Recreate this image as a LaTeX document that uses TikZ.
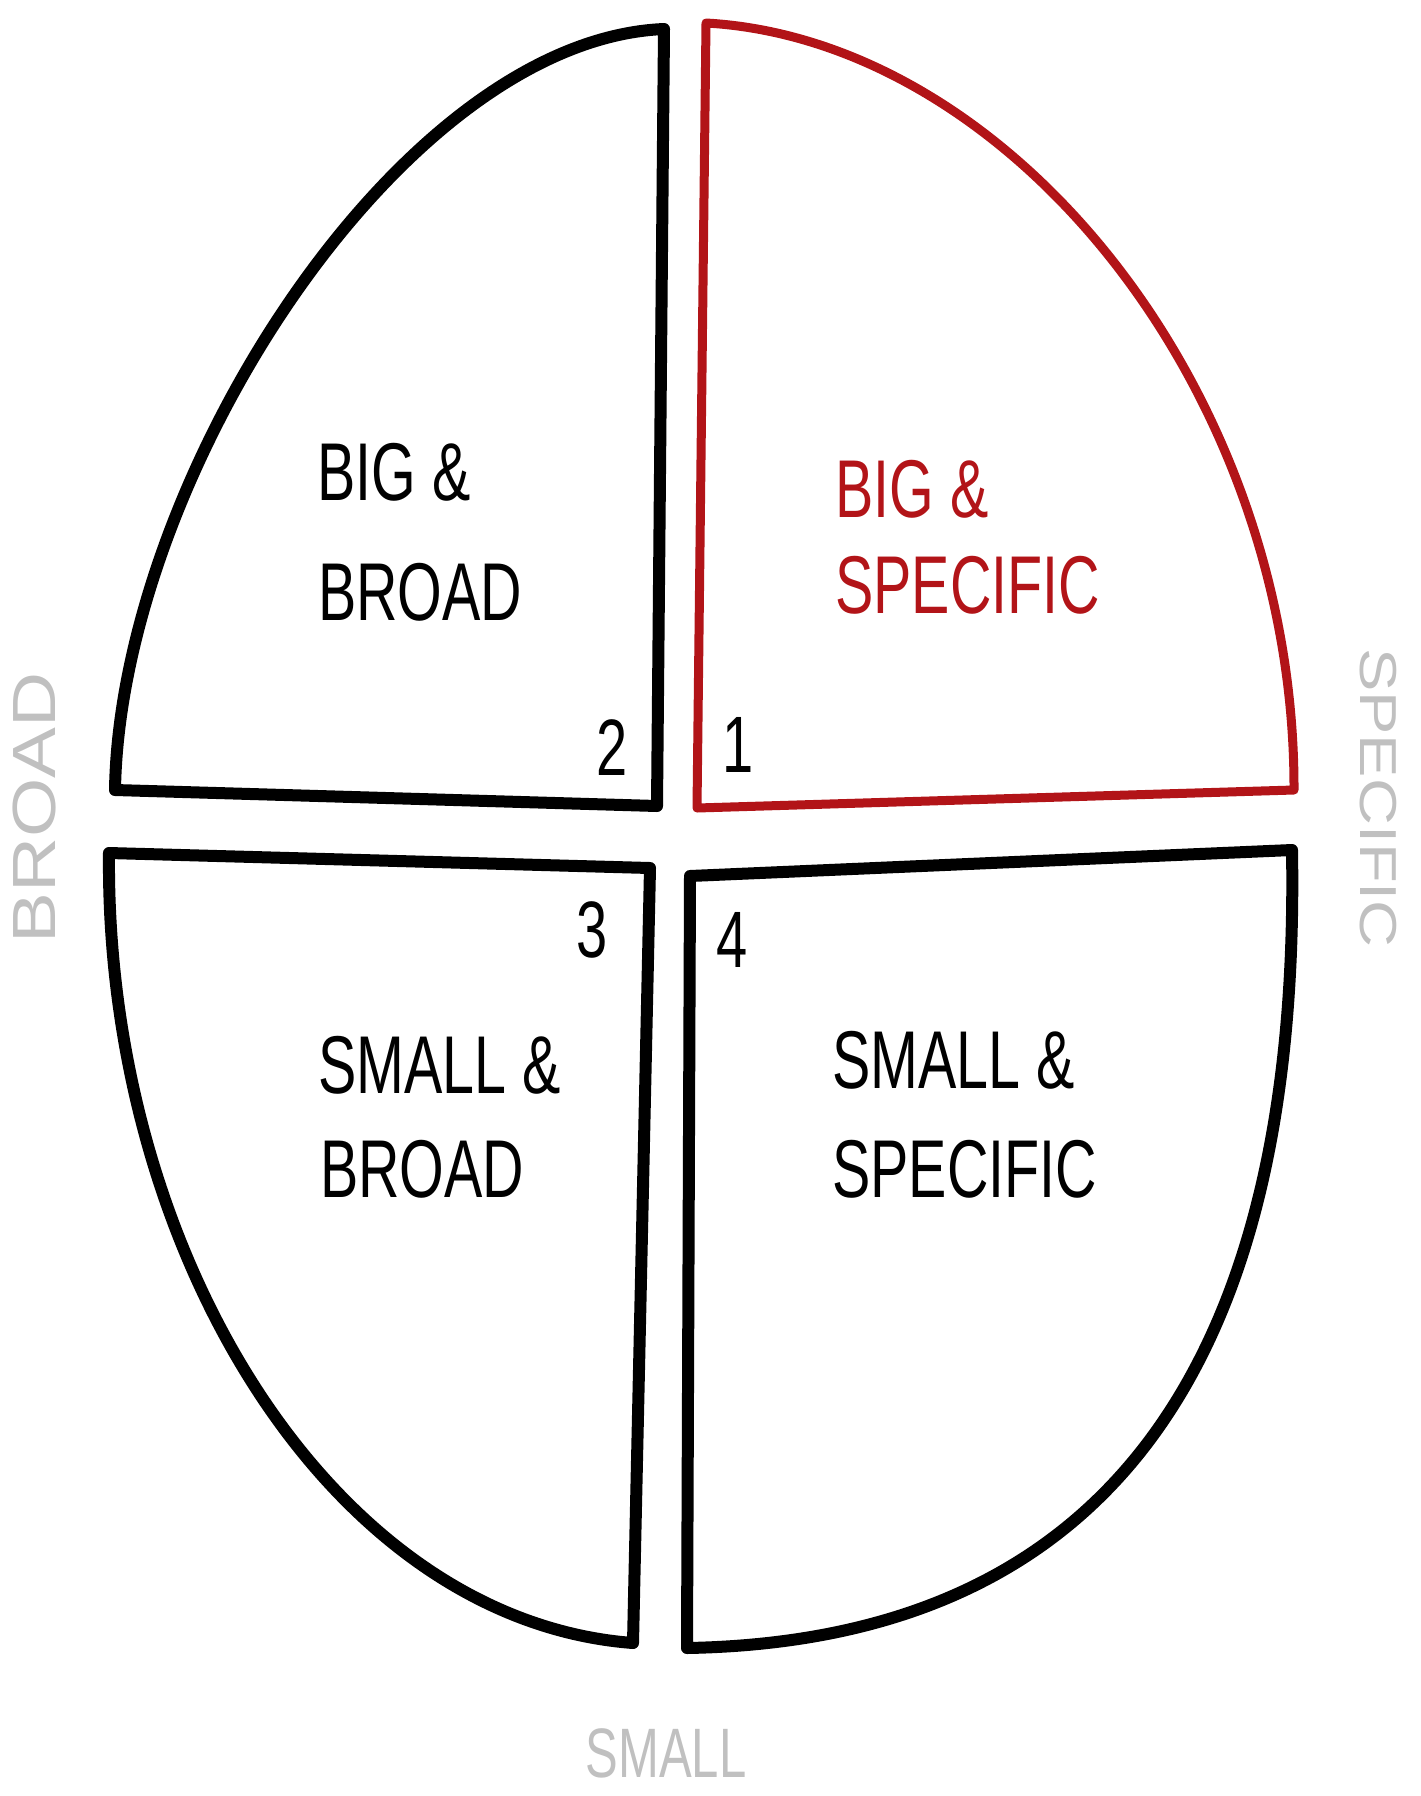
\documentclass[tikz,border=0pt]{standalone}
\usepackage{fontspec}
\newfontfamily\hand[FakeStretch=0.7]{Liberation Sans}
\newfontfamily\handside[FakeStretch=1.25]{Liberation Sans}
\usetikzlibrary{positioning}
\definecolor{inkred}{RGB}{178,20,24}
\definecolor{inkgray}{RGB}{192,192,192}
\tikzset{
  quarter/.style={line width=12pt, line join=round, line cap=round},
  label/.style={font=\hand\fontsize{82}{90}\selectfont, anchor=base west, inner sep=0pt},
  num/.style={font=\hand\fontsize{80}{90}\selectfont, inner sep=0pt},
  axis/.style={text=inkgray, inner sep=0pt}
}
\begin{document}
\begin{tikzpicture}[x=1pt, y=-1pt]
  \useasboundingbox (0,0) rectangle (1421,1796);
  % Quadrants
  \draw[quarter] (115,790) .. controls (120,480) and (400,40) .. (664,29) -- (657,806) -- cycle;
  \draw[quarter, inkred, line width=9pt] (706,23) .. controls (1010,40) and (1295,390) .. (1294,790) -- (697,808) -- cycle;
  \draw[quarter] (109,853) .. controls (105,1250) and (330,1620) .. (633,1643) -- (650,868) -- cycle;
  \draw[quarter] (1292,850) .. controls (1300,1320) and (1140,1640) .. (687,1648) -- (690,876) -- cycle;

  % Quadrant texts
  \node[label] (bigA) at (317,500) {BIG \&};
  \node[label] (broadA) at (318,620) {BROAD};
  \node[label, text=inkred] (bigB) at (835,517) {BIG \&};
  \node[label, text=inkred] (specB) at (835,613) {SPECIFIC};
  \node[label] (smallC) at (318,1093) {SMALL \&};
  \node[label] (broadC) at (320,1197) {BROAD};
  \node[label] (smallD) at (832,1088) {SMALL \&};
  \node[label] (specD) at (832,1197) {SPECIFIC};

  % Numbers
  \node[num] (n2) at (612,748) {2};
  \node[num] (n1) at (738,745) {1};
  \node[num] (n3) at (592,930) {3};
  \node[num] (n4) at (732,940) {4};

  % Axes
  \node[axis, rotate=90, font=\handside\fontsize{61}{70}\selectfont] (broadAx) at (35,808) {BROAD};
  \node[axis, rotate=-90, font=\handside\fontsize{52}{60}\selectfont] (specAx) at (1378,798) {SPECIFIC};
  \node[axis, font=\hand\fontsize{70}{80}\selectfont] (smallAx) at (666,1753) {SMALL};
\end{tikzpicture}
\end{document}
